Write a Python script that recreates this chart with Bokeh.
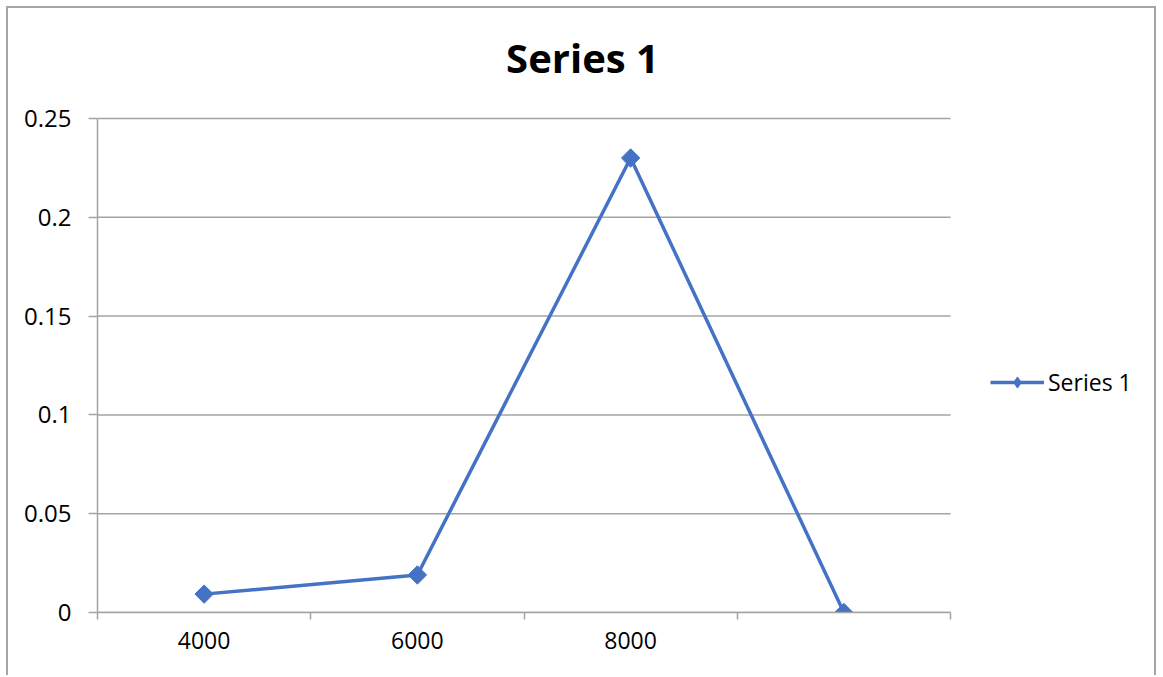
from bokeh.plotting import figure
from bokeh.models import FixedTicker, Legend, LegendItem, Range1d, Label
from bokeh.embed import file_html
from bokeh.resources import INLINE
import math

# ---- data ----
categories = ["4000", "6000", "8000", ""]
series_name = "Series 1"
values = [0.0093, 0.019, 0.23, 0.0]
y_ticks = [0, 0.05, 0.1, 0.15, 0.2, 0.25]
y_tick_labels = ["0", "0.05", "0.1", "0.15", "0.2", "0.25"]

FONT = "Open Sans"
GRID = "#a3a3a3"
BLUE = "#4472C4"

# layout (pixels)
CANVAS_W, CANVAS_H = 1150, 669
LEFT, BOTTOM = 89, 65
CAT_PX = 853   # width of the category area (rest of the frame holds the legend)
VAL_PX = 494   # height of the 0..0.25 value area (rest of the frame holds the title)
TITLE_CX, TITLE_CY = 485, 555   # title centre, pixels from the frame's bottom-left

n = len(categories)
xs = [i + 0.5 for i in range(n)]
x_end = n * (CANVAS_W - LEFT) / CAT_PX
y_max = y_ticks[-1]
y_end = y_max * (CANVAS_H - BOTTOM) / VAL_PX

p = figure(width=CANVAS_W, height=CANVAS_H, output_backend="svg", toolbar_location=None,
           x_range=Range1d(0, x_end), y_range=Range1d(0, y_end),
           min_border_left=LEFT, min_border_right=0, min_border_top=0,
           min_border_bottom=BOTTOM)
p.margin = (6, 0, 0, 6)
p.styles = {"border-top": "2px solid #a6a6a6", "border-left": "2px solid #a6a6a6",
            "border-right": "2px solid #a6a6a6"}
p.background_fill_color = "white"
p.border_fill_color = "white"
p.outline_line_color = None

# chart title
p.add_layout(Label(x=TITLE_CX / CAT_PX * n, y=TITLE_CY / VAL_PX * y_max, text=series_name,
                   text_font=FONT, text_font_size="40px", text_font_style="bold",
                   text_color="black", text_align="center", text_baseline="middle"))

# x axis
xa = p.xaxis[0]
xa.bounds = (0, n)
xa.ticker = FixedTicker(ticks=xs, minor_ticks=list(range(n + 1)))
xa.major_label_overrides = {x: c for x, c in zip(xs, categories)}
xa.major_tick_line_color = None
xa.major_tick_out = 0
xa.major_tick_in = 0
xa.minor_tick_line_color = GRID
xa.minor_tick_line_width = 1.5
xa.minor_tick_out = 7
xa.minor_tick_in = 0
xa.axis_line_color = GRID
xa.axis_line_width = 1.5
xa.major_label_text_font = FONT
xa.major_label_text_font_size = "23px"
xa.major_label_text_color = "black"
xa.major_label_standoff = 12

# y axis
ya = p.yaxis[0]
ya.bounds = (0, y_max)
ya.ticker = FixedTicker(ticks=y_ticks, minor_ticks=[])
ya.major_label_overrides = {t: l for t, l in zip(y_ticks, y_tick_labels)}
ya.major_tick_line_color = GRID
ya.major_tick_line_width = 1.5
ya.major_tick_out = 9
ya.major_tick_in = 0
ya.axis_line_color = GRID
ya.axis_line_width = 1.5
ya.major_label_text_font = FONT
ya.major_label_text_font_size = "24px"
ya.major_label_text_color = "black"
ya.major_label_standoff = 17

p.xgrid.grid_line_color = None
p.ygrid.grid_line_color = None
# horizontal gridlines limited to the category area
p.segment(x0=[0] * len(y_ticks), x1=[n] * len(y_ticks), y0=y_ticks, y1=y_ticks,
          line_color=GRID, line_width=1.5)

ln = p.line(xs, values, line_color=BLUE, line_width=3.5)
mk = p.scatter(xs, values, marker="square", angle=math.pi / 4, size=13,
               fill_color=BLUE, line_color=BLUE)
# legend-only marker glyph (a single non-drawn point)
mk_leg = p.scatter(x=[float("nan")], y=[float("nan")], marker="diamond", size=19,
                   fill_color=BLUE, line_color=BLUE)

legend = Legend(items=[LegendItem(label=series_name, renderers=[ln, mk_leg])],
                location=(CAT_PX + 40, 214), orientation="vertical")
legend.glyph_width = 54
legend.glyph_height = 28
legend.label_standoff = 4
legend.padding = 0
legend.margin = 0
legend.spacing = 0
legend.border_line_color = None
legend.background_fill_color = None
legend.label_text_font = FONT
legend.label_text_font_size = "23px"
legend.label_text_color = "black"
p.add_layout(legend, "center")

open("out.html", "w").write(file_html(p, INLINE))
